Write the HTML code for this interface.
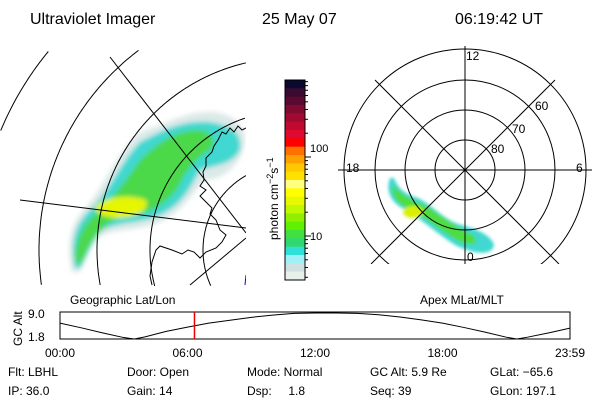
<!DOCTYPE html>
<html><head><meta charset="utf-8"><style>
html,body{margin:0;padding:0;background:#fff;width:600px;height:400px;overflow:hidden;}
svg{display:block;font-family:"Liberation Sans",sans-serif;}
</style></head><body>
<svg width="600" height="400" viewBox="0 0 600 400">
<defs>
<clipPath id="lc"><rect x="0" y="50" width="246" height="236"/></clipPath>
<clipPath id="pc"><rect x="338" y="46" width="254" height="218"/></clipPath>
<filter id="bl" x="-20%" y="-20%" width="140%" height="140%"><feGaussianBlur stdDeviation="2.5"/></filter>
<filter id="bl2"><feGaussianBlur stdDeviation="1.5"/></filter>
</defs>
<g font-size="16" fill="#000">
<text x="30" y="24">Ultraviolet Imager</text>
<text x="262" y="24">25 May 07</text>
<text x="455" y="24">06:19:42 UT</text>
</g>

<g clip-path="url(#lc)">
<g filter="url(#bl)">
<path d="M72,272 C66,245 70,222 88,205 C105,185 118,150 140,132 C165,125 185,110 215,112 C235,116 245,125 245,140 C243,162 225,180 205,180 C190,195 185,210 160,222 C140,232 110,228 98,238 C88,250 85,262 80,272 Z" fill="#dce9e8"/>
<path d="M75,268 C70,245 74,224 92,208 C110,190 122,160 140,142 C160,132 180,120 210,122 C232,126 242,132 240,150 C232,165 215,165 200,170 C190,188 182,205 160,215 C140,224 112,222 100,232 C90,245 86,258 80,268 Z" fill="#3fd8d0"/>
<path d="M76,264 C74,245 80,228 96,213 C112,200 126,180 140,160 C155,145 172,132 195,130 C212,130 218,140 210,150 C196,158 186,170 178,188 C165,205 150,214 125,216 C106,220 92,236 82,262 Z" fill="#4cd84a"/>
<path d="M96,206 C108,196 130,194 146,200 C150,210 136,218 116,218 C102,217 94,212 96,206 Z" fill="#e6f500"/>
</g>
<g id="mapgrid" fill="none" stroke="#000" stroke-width="1">
<line x1="110" y1="57" x2="246" y2="233"/>
<line x1="20" y1="200" x2="246" y2="228"/>
<line x1="190" y1="285" x2="246" y2="238"/>
<polyline points="246,128 242,130 238,126 234,132 230,128 226,134 222,132 218,140 214,146 212,152 206,158 206,166 203,172 204,180 200,186 206,190 200,196 206,202 212,208 210,214 216,220 220,230 226,235 222,242 216,248 206,252 200,258 194,252 188,250 182,254 172,250 160,246 156,250 152,262 150,276 152,285"/>
</g>
<line x1="246" y1="275" x2="245" y2="285" stroke="#00f"/>
</g>

<g>
<g id="cbands"></g>
<rect x="285" y="80" width="20" height="200" fill="none" stroke="#000"/>
<g id="cticks" stroke="#000"></g>
<text x="310" y="152" font-size="11">100</text>
<text x="310" y="240" font-size="11">10</text>
<text transform="translate(278,240) rotate(-90)" font-size="12">photon cm<tspan dy="-5" font-size="9">−2</tspan><tspan dy="5">s</tspan><tspan dy="-5" font-size="9">−1</tspan></text>
</g>

<g clip-path="url(#pc)">
<g filter="url(#bl2)">
<path d="M390,178 C385,192 392,202 402,208 C420,218 435,232 455,245 C475,255 494,256 494,244 C488,232 472,228 458,224 C442,218 432,205 418,198 C404,194 398,188 394,178 Z" fill="#40d8d0"/>
<path d="M392,186 C392,198 400,206 412,210 C425,218 440,230 460,242 C472,246 480,244 474,236 C458,228 444,218 430,208 C414,200 402,196 394,186 Z" fill="#50dc40"/>
<ellipse cx="413" cy="212" rx="10" ry="6" fill="#d8f000"/>
</g>
<g fill="none" stroke="#000">
<circle cx="465" cy="170" r="30"/><circle cx="465" cy="170" r="60"/><circle cx="465" cy="170" r="90"/><circle cx="465" cy="170" r="121"/>
<line x1="465" y1="46" x2="465" y2="264"/><line x1="338" y1="170" x2="592" y2="170"/>
<line x1="375" y1="80" x2="559" y2="264"/><line x1="555" y1="80" x2="371" y2="264"/>
</g>
<g font-size="12">
<text x="466" y="60">12</text><text x="576" y="172">6</text><text x="346" y="172">18</text><text x="467" y="261">0</text>
<text x="535" y="110">60</text><text x="512" y="133">70</text><text x="491" y="153">80</text>
</g>
</g>

<g>
<text x="70" y="304" font-size="12">Geographic Lat/Lon</text>
<text x="420" y="304" font-size="12">Apex MLat/MLT</text>
<text transform="translate(22,346) rotate(-90)" font-size="12">GC Alt</text>
<text x="28" y="318" font-size="12">9.0</text>
<text x="28" y="341" font-size="12">1.8</text>
<rect x="60" y="312" width="510" height="27" fill="none" stroke="#000"/>
<polyline id="altline" fill="none" stroke="#000"/>
<line id="redline" stroke="#e00" stroke-width="1.5"/>
<g id="xticks" font-size="12"></g>
</g>

<g font-size="12">
<text x="8" y="376">Flt: LBHL</text><text x="127" y="376">Door: Open</text><text x="247" y="376">Mode: Normal</text><text x="370" y="376">GC Alt: 5.9 Re</text><text x="490" y="376">GLat: −65.6</text>
<text x="8" y="395">IP: 36.0</text><text x="127" y="395">Gain: 14</text><text x="247" y="395">Dsp:&#160;&#160;&#160;&#160;&#160;1.8</text><text x="370" y="395">Seq: 39</text><text x="490" y="395">GLon: 197.1</text>
</g>
</svg>
<script>
const bandColors=["#0a0a30","#3a0a30","#5a0a30","#800a30","#a00a30","#c00a30","#e00a30","#ff0000","#ff7000","#ffa000","#ffc800","#ffe000","#ffff80","#ffff00","#e8f800","#c0f800","#90f000","#60f000","#40e040","#30d870","#30e0d8","#a0f0f8","#d0e0e0","#e8f0ec"];
const colorTicks=[3,4,5,6,7,8,9,10,20,30,40,50,60,70,80,90,100,200,300,400,500,600,700,800,900];
const hours=[0,1,2,3,3.5,4,5,6,7,8,9,10,11,12,13,14,15,16,17,18,19,20,21,21.5,22,23,24];
const altValues=[6.2,4.9,3.5,2.2,1.8,2.4,3.9,5.1,6.2,7.0,7.8,8.4,8.9,9.0,9.0,8.9,8.5,7.9,7.1,6.2,5.0,3.7,2.3,1.8,2.3,3.5,4.8];
const timeLabels=["00:00","06:00","12:00","18:00","23:59"];
const timeTickHours=[0,6,12,18,24];
const currentHour=6+19/60+42/3600;
const latRings=[86,139,192,250,312];
const NS="http://www.w3.org/2000/svg";
// map latitude arcs, clipped to the panel so nothing extends past the frame
const mg=document.getElementById('mapgrid');
latRings.forEach(r=>{let segs=[],cur=[];
for(let a=0;a<=360;a+=0.5){const t=a*Math.PI/180;const x=289+r*Math.cos(t),y=250+r*Math.sin(t);
if(x>=0&&x<=246&&y>=50&&y<=286){cur.push(x.toFixed(1)+','+y.toFixed(1));}else if(cur.length){segs.push(cur);cur=[];}}
if(cur.length)segs.push(cur);
segs.forEach(s=>{const p=document.createElementNS(NS,'polyline');p.setAttribute('points',s.join(' '));


mg.appendChild(p);});});
const cb=document.getElementById('cbands');
const bh=200/bandColors.length;
bandColors.forEach((c,i)=>{const r=document.createElementNS(NS,'rect');
r.setAttribute('x',285);r.setAttribute('y',80+i*bh);r.setAttribute('width',20);r.setAttribute('height',bh+0.5);r.setAttribute('fill',c);


cb.appendChild(r);});
const cy=v=>157+(2-Math.log10(v))*79;
const ct=document.getElementById('cticks');
colorTicks.forEach(v=>{const y=cy(v);if(y<80||y>280)return;const major=(v===10||v===100);
const l=document.createElementNS(NS,'line');l.setAttribute('x1',305);l.setAttribute('x2',major?311:308);l.setAttribute('y1',y);l.setAttribute('y2',y);


ct.appendChild(l);});
const xs=h=>60+h/24*510;
const ys=v=>339-(v-1.8)/7.2*26;
document.getElementById('altline').setAttribute('points',hours.map((h,i)=>xs(h)+','+ys(altValues[i])).join(' '));
const rl=document.getElementById('redline');
rl.setAttribute('x1',xs(currentHour));rl.setAttribute('x2',xs(currentHour));rl.setAttribute('y1',312);rl.setAttribute('y2',339);
const xt=document.getElementById('xticks');
timeLabels.forEach((t,i)=>{const e=document.createElementNS(NS,'text');e.setAttribute('x',xs(timeTickHours[i]));e.setAttribute('y',357);e.setAttribute('text-anchor','middle');e.textContent=t;


xt.appendChild(e);});
</script>
</body></html>
